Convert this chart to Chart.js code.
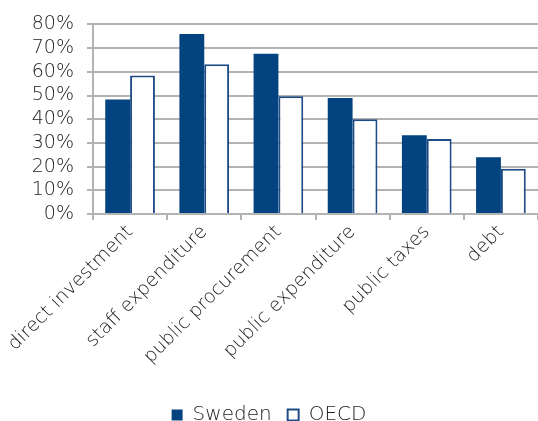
<!DOCTYPE html>
<html>
<head>
<meta charset="utf-8">
<script src="https://cdn.jsdelivr.net/npm/chart.js@4/dist/chart.umd.min.js"></script>
<style>
html,body{margin:0;padding:0;background:#fff;}
#wrap{width:538px;height:421px;}
</style>
</head>
<body>
<div id="wrap"><canvas id="c" width="538" height="421"></canvas></div>
<script>
const categories = ["direct investment","staff expenditure","public procurement","public expenditure","public taxes","debt"];
const sweden = [48.3, 76.0, 67.6, 48.9, 33.2, 23.9];
const oecd = [58.4, 63.2, 49.7, 40.0, 31.6, 19.1];
const yTicks = [0,10,20,30,40,50,60,70,80];

const FONT = "'DejaVu Sans', sans-serif";
const W = 300;
new Chart(document.getElementById('c'), {
  type: 'bar',
  data: {
    labels: categories,
    datasets: [
      {label:'Sweden', data: sweden, backgroundColor:'#03437f', borderColor:'#03437f', borderWidth:0},
      {label:'OECD', data: oecd, backgroundColor:'#ffffff', borderColor:'#1f4c86', borderWidth:2}
    ]
  },
  options: {
    responsive:false,
    animation:false,
    layout:{padding:{top:12,right:0,left:0,bottom:-14}},
    datasets:{bar:{categoryPercentage:0.67,barPercentage:1}},
    plugins:{
      tooltip:{enabled:false},
      legend:{
        position:'bottom',
        labels:{font:{family:FONT,size:20,weight:W},color:'#222',boxWidth:11,boxHeight:11,padding:16}
      }
    },
    scales:{
      x:{
        afterFit:(ax)=>{ax.height = 175;},
        grid:{display:true,drawOnChartArea:false,color:'#b3b3b3',lineWidth:2,tickLength:6,offset:true},
        border:{color:'#b3b3b3',width:2},
        ticks:{font:{family:FONT,size:19,weight:W},color:'#222',maxRotation:45,minRotation:45,padding:1,autoSkip:false}
      },
      y:{
        min:0,max:80,
        afterFit:(ax)=>{ax.width = 93;},
        afterBuildTicks:(ax)=>{ax.ticks = yTicks.map(v=>({value:v}));},
        grid:{color:'#b3b3b3',lineWidth:2,tickLength:6},
        border:{color:'#b3b3b3',width:2},
        ticks:{font:{family:FONT,size:19,weight:W},color:'#222',padding:13,autoSkip:false,callback:v=>v+'%'}
      }
    }
  }
});
</script>
</body>
</html>
